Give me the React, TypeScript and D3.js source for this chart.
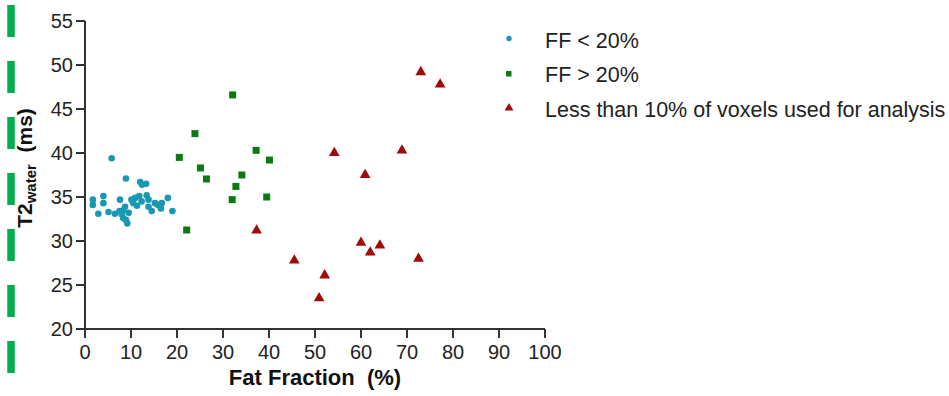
import React from "react";
import * as d3 from "d3";

const blueFF: number[] = [1.7,1.7,2.9,4.0,4.0,5.1,5.8,6.5,7.6,7.5,8.0,8.3,8.3,8.7,8.9,8.9,9.2,9.5,10.1,10.5,10.9,11.3,11.8,12.0,12.3,12.4,13.3,13.4,13.8,13.8,14.5,15.2,15.9,16.7,16.5,18.0,19.0];
const blueT2: number[] = [34.7,34.1,33.1,35.1,34.3,33.3,39.4,33.1,34.7,33.4,33.0,32.6,33.5,33.9,37.1,32.4,32.0,33.2,34.7,34.3,34.9,34.0,35.1,36.7,34.5,36.4,36.5,35.2,34.7,33.9,33.4,34.3,34.1,34.3,33.7,34.9,33.4];

const greenFF: number[] = [32.1,23.9,20.5,25.1,26.4,37.2,40.1,34.1,32.8,32.0,39.5,22.1];
const greenT2: number[] = [46.6,42.2,39.5,38.3,37.05,40.3,39.2,37.5,36.2,34.7,35.0,31.25];

const redFF: number[] = [73.0,77.2,54.2,68.9,60.9,37.3,45.5,52.1,50.9,60.0,64.1,62.0,72.5];
const redT2: number[] = [49.2,47.8,40.0,40.3,37.5,31.2,27.8,26.1,23.5,29.8,29.5,28.7,28.0];

const xTicks: number[] = [0,10,20,30,40,50,60,70,80,90,100];
const yTicks: number[] = [20,25,30,35,40,45,50,55];
const legendLabels: string[] = ["FF < 20%", "FF > 20%", "Less than 10% of voxels used for analysis"];

const BLUE = "#1a98b3";
const GREEN = "#0c7a12";
const RED = "#a00a0a";
const AXIS = "#333";
const FONT = "'Liberation Sans', Arial, sans-serif";

export default function App() {
  const W = 949, H = 396;
  const x = d3.scaleLinear().domain([0, 100]).range([85, 545]);
  const y = d3.scaleLinear().domain([20, 55]).range([329, 21]);
  const tri = d3.symbol().type(d3.symbolTriangle).size(50)() as string;
  const triL = d3.symbol().type(d3.symbolTriangle).size(34)() as string;

  return (
    <svg width={W} height={H} style={{ position: "absolute", left: 0, top: 0, background: "#fff" }} fontFamily={FONT}>
      <rect width={W} height={H} fill="#fff" />
      {/* left green dashed artifact */}
      <line x1={11} x2={11} y1={5} y2={380} stroke="#00b050" strokeWidth={7.5} strokeDasharray="32 24" />

      {/* axes */}
      <line x1={x(0)} x2={x(0)} y1={y(55)} y2={y(20)} stroke={AXIS} strokeWidth={2} />
      <line x1={x(0) - 9} x2={x(100)} y1={y(20)} y2={y(20)} stroke={AXIS} strokeWidth={2} />
      {yTicks.map((t) => (
        <g key={"y" + t}>
          <line x1={x(0) - 9} x2={x(0)} y1={y(t)} y2={y(t)} stroke={AXIS} strokeWidth={2} />
          <text x={x(0) - 12} y={y(t)} dy="0.36em" textAnchor="end" fontSize={20} fill="#222">{t}</text>
        </g>
      ))}
      {xTicks.map((t) => (
        <g key={"x" + t}>
          <line x1={x(t)} x2={x(t)} y1={y(20)} y2={y(20) + 9} stroke={AXIS} strokeWidth={2} />
          <text x={x(t)} y={359} textAnchor="middle" fontSize={20} fill="#222">{t}</text>
        </g>
      ))}

      {/* axis titles */}
      <text x={315} y={385} textAnchor="middle" fontSize={22} fontWeight="bold" fill="#111" style={{ whiteSpace: "pre" }}>{"Fat Fraction  (%)"}</text>
      <text transform="translate(32,168) rotate(-90)" textAnchor="middle" fontSize={21} fontWeight="bold" fill="#111" style={{ whiteSpace: "pre" }}>
        T2<tspan fontSize={15} dy={4}>water</tspan><tspan dy={-4}>{"  (ms)"}</tspan>
      </text>

      {/* data */}
      {blueFF.map((v, i) => (
        <circle key={"b" + i} cx={x(v)} cy={y(blueT2[i])} r={3.3} fill={BLUE} />
      ))}
      {greenFF.map((v, i) => (
        <rect key={"g" + i} x={x(v) - 3.5} y={y(greenT2[i]) - 3.5} width={7} height={7} fill={GREEN} />
      ))}
      {redFF.map((v, i) => (
        <path key={"r" + i} d={tri} transform={`translate(${x(v)},${y(redT2[i])})`} fill={RED} />
      ))}

      {/* legend */}
      <circle cx={509} cy={38.5} r={2.7} fill={BLUE} />
      <rect x={506} y={71} width={5.5} height={5.5} fill={GREEN} />
      <path d={triL} transform="translate(509,108)" fill={RED} />
      {legendLabels.map((l, i) => (
        <text key={"l" + i} x={545} y={40 + i * 34.5} dy="0.36em" fontSize={21.5} fill="#222">{l}</text>
      ))}
    </svg>
  );
}
